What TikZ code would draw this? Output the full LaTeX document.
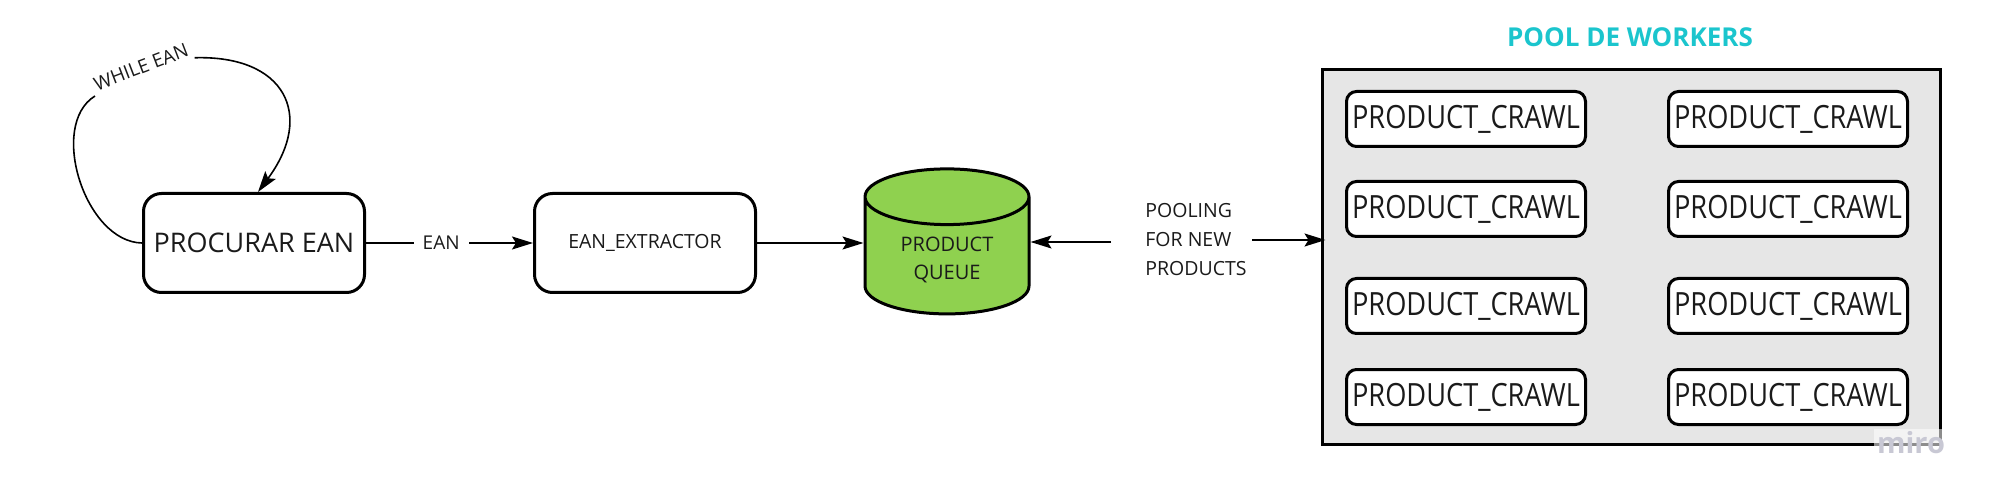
\documentclass[tikz,border=0pt]{standalone}
\usepackage{fontspec}
\setmainfont{Open Sans}
\newfontfamily\crawlfont[FakeStretch=0.85]{Open Sans}
\usepackage{tikz}
\usetikzlibrary{positioning,arrows.meta,shapes.geometric}
\definecolor{queuegreen}{HTML}{8FD14F}
\definecolor{poolgray}{HTML}{E6E6E6}
\definecolor{titlecyan}{HTML}{1BC5CD}
\definecolor{inkgray}{HTML}{1A1A1A}
\definecolor{markgray}{RGB}{200,200,212}

\begin{document}
\begin{tikzpicture}[
    x=1pt, y=-1pt,
    >={Stealth[length=21pt,width=13pt,inset=4pt]},
    line width=1.6pt,
    text=inkgray
]

\tikzstyle{stage}=[
    draw,
    line width=3pt,
    rounded corners=18pt,
    minimum width=221pt,
    minimum height=99pt,
    fill=white
]
\tikzstyle{crawler}=[
    draw,
    line width=3pt,
    rounded corners=10pt,
    minimum width=239pt,
    minimum height=55pt,
    inner sep=0pt,
    fill=white,
    font=\crawlfont\fontsize{32}{36}\selectfont
]
\tikzstyle{queue}=[
    cylinder,
    shape border rotate=90,
    draw,
    line width=3pt,
    fill=queuegreen,
    aspect=0.56,
    minimum width=164pt,
    minimum height=145pt,
    align=center,
    font=\fontsize{20}{28}\selectfont
]
\tikzstyle{flowlabel}=[
    fill=white,
    inner xsep=9pt,
    inner ysep=3pt,
    font=\fontsize{19}{29}\selectfont
]

\useasboundingbox (0,0) rectangle (1991,502);

% pipeline
\node[stage, font=\fontsize{27}{32}\selectfont] (procurar) at (254,243) {PROCURAR EAN};
\node[stage, font=\fontsize{19.5}{24}\selectfont] (extractor) at (645,243) {EAN\_EXTRACTOR};
\node[queue] (queue) at (947,260) {PRODUCT\\QUEUE};
\node[align=left, inner sep=0pt, font=\fontsize{19.5}{29}\selectfont] (pooling) at (1196,240) {POOLING\\FOR NEW\\PRODUCTS};

% workers
\node[draw, line width=3pt, fill=poolgray, minimum width=618pt, minimum height=374pt] (pool) at (1631,257) {};
\node[font=\bfseries\fontsize{26}{30}\selectfont, text=titlecyan] (title) at (1630,37) {POOL DE WORKERS};
\foreach \row/\y in {1/119, 2/209, 3/306, 4/397} {
    \node[crawler] (crawl-\row-1) at (1466,\y) {PRODUCT\_CRAWL};
    \node[crawler] (crawl-\row-2) at (1788,\y) {PRODUCT\_CRAWL};
}
\node[font=\bfseries\fontsize{29}{30}\selectfont, text=markgray, fill=white, fill opacity=0.55, text opacity=1] (miro) at (1911,443) {miro};

% loop
\node[rotate=21, inner sep=3pt, font=\fontsize{19}{22}\selectfont] (whileLbl) at (141,67) {WHILE EAN};
\draw (procurar.west) .. controls (85,242) and (48,125) .. (whileLbl.south west);
\draw[->] (whileLbl.south east) .. controls (285,55) and (315,115) .. ([xshift=4pt]procurar.north);

% connectors
\draw[->] (procurar) -- node[flowlabel, pos=0.45] (eanLbl) {EAN} (extractor);
\draw[->] (extractor.east) -- (extractor.east -| queue.west);
\coordinate (pollStart) at (1111,242);
\draw[->] (pollStart) -- (pollStart -| queue.east);
\draw[->] ([xshift=5pt]pooling.east) -- ([xshift=5pt]pooling.east -| pool.west);

\end{tikzpicture}
\end{document}
